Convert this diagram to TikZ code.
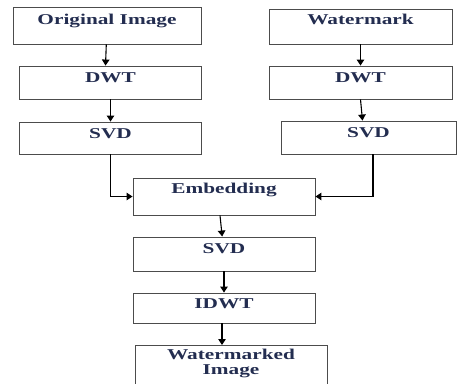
\documentclass[tikz,border=0pt]{standalone}
\usepackage{fontspec}
\setmainfont{Liberation Serif}[FakeStretch=1.42]
\definecolor{boxtext}{RGB}{35,45,80}
\usetikzlibrary{arrows.meta,positioning}
\tikzstyle{block}=[draw=black!70, line width=.9pt, minimum width=182pt,
  inner sep=0pt, text height=16pt, text=boxtext,
  font=\fontsize{15pt}{15pt}\selectfont\bfseries]
\tikzstyle{flow}=[-{Triangle[length=6pt,width=7.5pt]}, line width=1.1pt]

\begin{document}
\begin{tikzpicture}[x=1pt, y=-1pt, node distance=56pt, on grid]
  \path[use as bounding box, clip] (0,0) rectangle (457,383);

  % left branch
  \node[block, minimum width=188pt, text height=17pt, text depth=20pt] (orig) at (107,25.5) {Original Image};
  \node[block, text depth=17pt, below=57pt of orig, xshift=3.5pt] (dwtL) {DWT};
  \node[block, text depth=16pt, below=55.5pt of dwtL] (svdL) {SVD};

  % right branch
  \node[block, minimum width=183pt, text height=15pt, text depth=20pt] (wm) at (360.5,26.5) {Watermark};
  \node[block, minimum width=183pt, text depth=17pt, below=56pt of wm] (dwtR) {DWT};
  \node[block, minimum width=175pt, text depth=17pt, below=55pt of dwtR, xshift=8pt] (svdR) {SVD};

  % merged chain
  \node[block, text height=15pt, text depth=22pt] (emb) at (224,196.5) {Embedding};
  \node[block, text depth=18pt, below=57.5pt of emb] (svdB) {SVD};
  \node[block, text height=15pt, text depth=15pt, below=54pt of svdB] (idwt) {IDWT};
  \node[block, minimum width=192pt, text height=, text depth=25pt, inner ysep=4pt,
        align=center, anchor=north] (wmi) at (231,345) {Watermarked\\Image};

  \draw[flow] (orig) -- ([xshift=-5pt]dwtL.north);
  \draw[flow] (dwtL) -- (svdL);
  \draw[flow] (wm) -- (dwtR);
  \draw[flow] (dwtR.south) -- ([xshift=-6pt]svdR.north);
  \draw[flow] (svdL.south) |- (emb.west);
  \draw[flow] ([xshift=4.5pt]svdR.south) |- (emb.east);
  \draw[flow] ([xshift=-4pt]emb.south) -- (svdB);
  \draw[flow] (svdB) -- (idwt);
  \draw[flow] ([xshift=-2pt]idwt.south) -- ([xshift=-2pt]idwt.south |- wmi.north);
\end{tikzpicture}
\end{document}
